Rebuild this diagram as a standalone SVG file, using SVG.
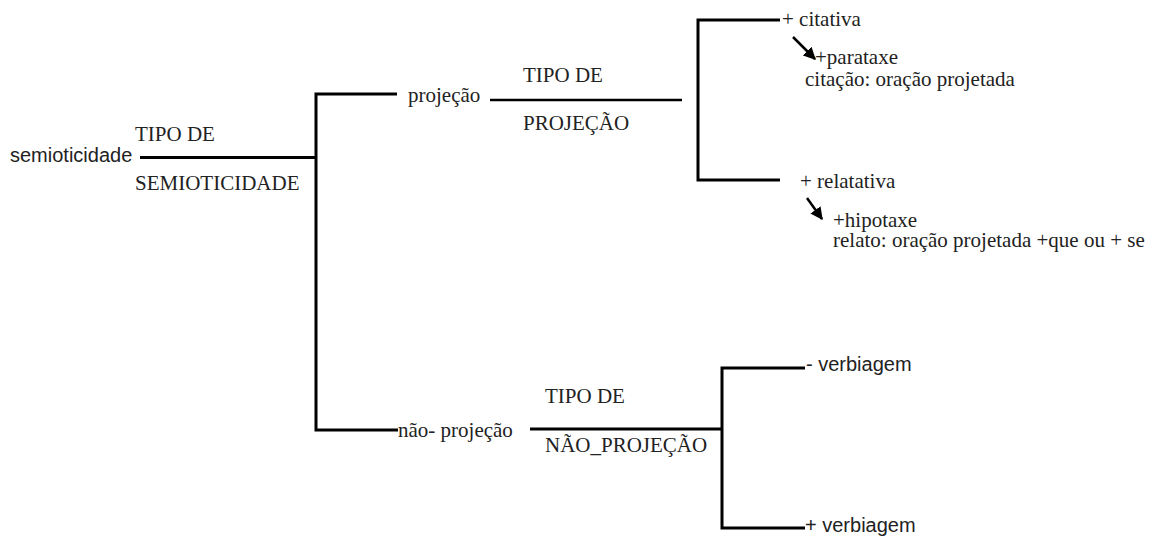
<svg xmlns="http://www.w3.org/2000/svg" width="1156" height="536" viewBox="0 0 1156 536">
<style>
.serif{font-family:'Liberation Serif','DejaVu Serif','Times New Roman',serif;font-size:21px;fill:#222}
.sans{font-family:'Liberation Sans','DejaVu Sans',Arial,sans-serif;font-size:20px;fill:#222}
.ln{fill:none;stroke:#000;stroke-width:3}
.thin{fill:none;stroke:#000;stroke-width:2.5}
.arr{fill:none;stroke:#000;stroke-width:2.5}
</style>
<defs>
<marker id="ah" viewBox="0 0 10 10" refX="9" refY="5" markerWidth="5" markerHeight="5" orient="auto" markerUnits="strokeWidth">
<path d="M0,0 L10,5 L0,10 z" fill="#000"/>
</marker>
</defs>
<g id="connectors">
<path class="ln" d="M140,157.5 H316"/>
<path class="ln" d="M397,94 H316 V430 H398"/>
<path class="thin" d="M490,100 H682"/>
<path class="ln" d="M780,20 H698 V180 H780"/>
<path class="ln" d="M530,429 H722"/>
<path class="ln" d="M805,368 H722 V528 H805"/>
<path class="arr" d="M793,37 L815,59" marker-end="url(#ah)"/>
<path class="arr" d="M807,198 L822,219" marker-end="url(#ah)"/>
</g>
<g id="node-semioticidade"><text class="sans" x="10" y="162">semioticidade</text></g>
<g id="label-tipo-semioticidade">
<text class="serif" x="135" y="141">TIPO DE</text>
<text class="serif" x="135" y="190">SEMIOTICIDADE</text>
</g>
<g id="node-projecao"><text class="serif" x="408" y="102">projeção</text></g>
<g id="label-tipo-projecao">
<text class="serif" x="523" y="82">TIPO DE</text>
<text class="serif" x="523" y="130">PROJEÇÃO</text>
</g>
<g id="node-citativa">
<text class="serif" x="782" y="26">+ citativa</text>
<text class="serif" x="815" y="64">+parataxe</text>
<text class="serif" x="805" y="86">citação: oração projetada</text>
</g>
<g id="node-relatativa">
<text class="serif" x="800" y="188">+ relatativa</text>
<text class="serif" x="833" y="227">+hipotaxe</text>
<text class="serif" x="833" y="247">relato: oração projetada +que ou + se</text>
</g>
<g id="node-nao-projecao"><text class="serif" x="398" y="437">não- projeção</text></g>
<g id="label-tipo-nao-projecao">
<text class="serif" x="545" y="403">TIPO DE</text>
<text class="serif" x="545" y="452">NÃO_PROJEÇÃO</text>
</g>
<g id="node-menos-verbiagem"><text class="sans" x="806" y="371">- verbiagem</text></g>
<g id="node-mais-verbiagem"><text class="sans" x="805" y="532">+ verbiagem</text></g>
</svg>
